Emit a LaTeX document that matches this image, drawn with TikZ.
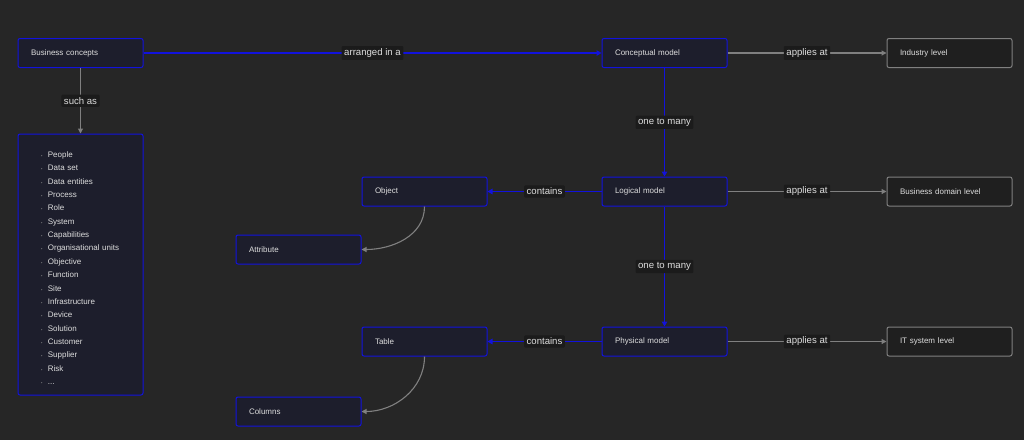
\documentclass[tikz,border=0pt]{standalone}
\usepackage{fontspec}
\setmainfont{Liberation Sans}
\usetikzlibrary{arrows.meta}
\definecolor{bgdark}{HTML}{262626}
\definecolor{boxfill}{HTML}{1D1E2C}
\definecolor{boxblue}{HTML}{1212DD}
\definecolor{grayfill}{HTML}{1F1F1F}
\definecolor{grayline}{HTML}{808080}
\definecolor{txt}{HTML}{DEDEDE}
\definecolor{lblfill}{HTML}{1B1B1B}
\definecolor{dotgray}{HTML}{8A8A8A}
\newcommand{\itm}[1]{{\color{dotgray}\scalebox{0.5}{\textbullet}}\hspace{5.5pt}#1}
\begin{document}
\begin{tikzpicture}[x=1pt,y=-1pt,
    box/.style={draw=boxblue, fill=boxfill, line width=1pt, rounded corners=2pt,
        minimum height=29pt, text width=99pt, inner xsep=13pt, align=left,
        text=txt, font=\fontsize{8}{9}\selectfont},
    levelbox/.style={box, draw=grayline, fill=grayfill},
    lbl/.style={fill=lblfill, text=txt, inner sep=2.5pt, rounded corners=1pt,
        font=\fontsize{9.6}{11}\selectfont},
    blueedge/.style={draw=boxblue, line width=1.4pt, -{Triangle[length=5pt,width=5.5pt]}},
    grayedge/.style={draw=grayline, line width=1.1pt, -{Triangle[length=5pt,width=5pt]}}]
    \fill[bgdark] (0,0) rectangle (1024,440);
    \useasboundingbox (0,0) rectangle (1024,440);
    % left column
    \node[box] (concepts) at (80.5,53) {Business concepts};
    \node[box, minimum height=261pt, text width=79pt, inner xsep=23pt,
        font=\fontsize{8}{13.35}\selectfont] (examples) at (80.5,264.5)
        {\rule{0pt}{13pt}\itm{People}\\ \itm{Data set}\\ \itm{Data entities}\\ \itm{Process}\\
        \itm{Role}\\ \itm{System}\\ \itm{Capabilities}\\ \itm{Organisational units}\\
        \itm{Objective}\\ \itm{Function}\\ \itm{Site}\\ \itm{Infrastructure}\\
        \itm{Device}\\ \itm{Solution}\\ \itm{Customer}\\ \itm{Supplier}\\
        \itm{Risk}\\ \itm{...}};
    % models
    \node[box] (conceptual) at (664.5,53) {Conceptual model};
    \node[box] (logical) at (664.5,191.5) {Logical model};
    \node[box] (physical) at (664.5,341.5) {Physical model};
    % levels
    \node[levelbox] (industry) at (949.5,53) {Industry level};
    \node[levelbox] (domain) at (949.5,191.5) {Business domain level};
    \node[levelbox] (itsystem) at (949.5,341.5) {IT system level};
    % contents
    \node[box] (object) at (424.5,191.5) {Object};
    \node[box] (attribute) at (298.5,249.5) {Attribute};
    \node[box] (table) at (424.5,341.5) {Table};
    \node[box] (columns) at (298.5,411.5) {Columns};
    % connectors
    \draw[grayedge] (concepts) -- node[lbl] {such as} (examples);
    \draw[blueedge] (concepts) -- node[lbl] {arranged in a} (conceptual);
    \draw[blueedge] (conceptual) -- node[lbl] {one to many} (logical);
    \draw[blueedge] (logical) -- node[lbl] {one to many} (physical);
    \draw[grayedge] (conceptual) -- node[lbl] {applies at} (industry);
    \draw[grayedge] (logical) -- node[lbl] {applies at} (domain);
    \draw[grayedge] (physical) -- node[lbl] {applies at} (itsystem);
    \draw[blueedge] (logical) -- node[lbl] {contains} (object);
    \draw[blueedge] (physical) -- node[lbl] {contains} (table);
    \draw[grayedge] (object.south) to[out=-90, in=0] (attribute.east);
    \draw[grayedge] (table.south) to[out=-90, in=0] (columns.east);
\end{tikzpicture}
\end{document}
